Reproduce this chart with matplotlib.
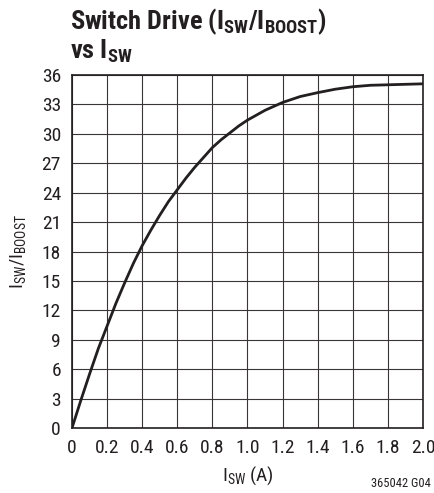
import matplotlib
matplotlib.use("Agg")
import matplotlib.pyplot as plt
from matplotlib import font_manager

# curve
i_sw = [0.0, 0.05, 0.1, 0.15, 0.2, 0.25, 0.3, 0.35, 0.4, 0.45, 0.5, 0.55, 0.6, 0.65, 0.7,
        0.75, 0.8, 0.85, 0.9, 0.95, 1.0, 1.05, 1.1, 1.15, 1.2, 1.25, 1.3, 1.35, 1.4,
        1.5, 1.6, 1.7, 1.8, 1.9, 2.0]
ratio = [0.0, 2.8, 5.5, 8.1, 10.4, 12.7, 14.8, 16.8, 18.6, 20.2, 21.7, 23.1, 24.3, 25.5, 26.6,
         27.6, 28.6, 29.4, 30.1, 30.8, 31.4, 31.9, 32.4, 32.8, 33.2, 33.5, 33.8, 34.0, 34.2,
         34.55, 34.8, 34.95, 35.0, 35.05, 35.1]

xticks = [0, 0.2, 0.4, 0.6, 0.8, 1.0, 1.2, 1.4, 1.6, 1.8, 2.0]
xticklabels = ["0", "0.2", "0.4", "0.6", "0.8", "1.0", "1.2", "1.4", "1.6", "1.8", "2.0"]
yticks = list(range(0, 37, 3))

names = set(f.name for f in font_manager.fontManager.ttflist)
fam = "Liberation Sans"
for cand in ["Liberation Sans Narrow", "Roboto Condensed", "Open Sans Condensed", "DejaVu Sans Condensed"]:
    if cand in names:
        fam = cand
        break
plt.rcParams["font.family"] = [fam, "DejaVu Sans"]
plt.rcParams["mathtext.fontset"] = "custom"
plt.rcParams["mathtext.rm"] = fam
plt.rcParams["mathtext.bf"] = fam + ":bold"

fig = plt.figure(figsize=(4.35, 4.93), dpi=100)
ax = fig.add_axes([0.1655, 0.1318, 0.8069, 0.7161])

ax.plot(i_sw, ratio, color="#231f20", lw=2.0, solid_capstyle="butt", solid_joinstyle="round", zorder=3)

ax.set_xlim(0, 2.0)
ax.set_ylim(0, 36)
ax.set_xticks(xticks)
ax.set_xticklabels(xticklabels)
ax.set_yticks(yticks)
ax.grid(True, color="#3a3637", lw=0.8)
ax.tick_params(length=0, labelsize=14, pad=8, colors="#231f20")
for s in ax.spines.values():
    s.set_color("#231f20")
    s.set_linewidth(1.2)

ax.set_xlabel(r"I$\mathregular{_{SW}}$ (A)", fontsize=14, color="#231f20", labelpad=5)
ax.set_ylabel(r"I$\mathregular{_{SW}}$/I$\mathregular{_{BOOST}}$", fontsize=14, color="#231f20", labelpad=10)

fig.text(0.161, 0.955, r"Switch Drive (I$\mathbf{_{SW}}$/I$\mathbf{_{BOOST}}$)", fontsize=19,
         fontweight="bold", color="#231f20", va="center", ha="left")
fig.text(0.161, 0.895, r"vs I$\mathbf{_{SW}}$", fontsize=19,
         fontweight="bold", color="#231f20", va="center", ha="left")
fig.text(0.99, 0.02, "365042 G04", fontsize=9, color="#231f20", ha="right", va="center")

fig.savefig("out.png", dpi=100)
